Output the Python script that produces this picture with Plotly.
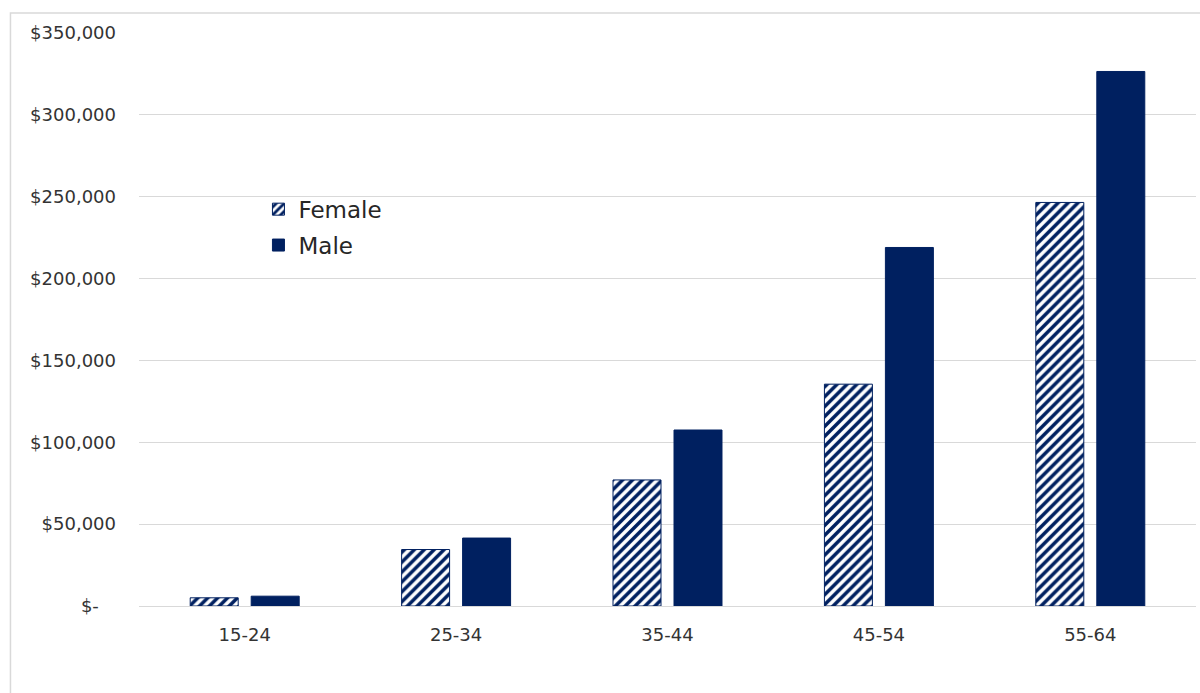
import plotly.graph_objects as go

# Age bands and average values by sex
age_groups = ["15-24", "25-34", "35-44", "45-54", "55-64"]
female_values = [5000, 34500, 77000, 135500, 246500]
male_values = [6000, 41500, 107500, 219000, 326500]

# Y-axis ticks in accounting style
tick_values = [0, 50000, 100000, 150000, 200000, 250000, 300000, 350000]
tick_labels = ["$-\u00a0\u00a0\u00a0", "$50,000", "$100,000", "$150,000",
               "$200,000", "$250,000", "$300,000", "$350,000"]

NAVY = "#002060"
TEXT = "#333333"
GRID = "#d9d9d9"
FONT = "DejaVu Sans, Verdana, sans-serif"

fig = go.Figure()
fig.add_trace(go.Bar(
    name="Female",
    legendgroup="female",
    x=age_groups,
    y=female_values,
    marker=dict(
        color="white",
        line=dict(color=NAVY, width=1),
        pattern=dict(shape="/", fgcolor=NAVY, bgcolor="white",
                     size=7, solidity=0.5, fgopacity=1,
                     fillmode="replace"),
    ),
))
fig.add_trace(go.Bar(
    name="Male",
    legendgroup="male",
    x=age_groups,
    y=male_values,
    marker=dict(color=NAVY, line=dict(color=NAVY, width=1)),
))

fig.update_layout(
    width=1200,
    height=693,
    margin=dict(l=139, r=4, t=33, b=87),
    paper_bgcolor="white",
    plot_bgcolor="white",
    barmode="group",
    bargap=0.423,
    bargroupgap=0.213,
    font=dict(family=FONT, color=TEXT, size=18),
    showlegend=True,
    legend=dict(
        x=0.113, y=0.73, xanchor="left", yanchor="top",
        bgcolor="rgba(0,0,0,0)",
        font=dict(size=23, color="#262626", family=FONT),
        tracegroupgap=3,
    ),
    xaxis=dict(
        showgrid=False,
        showline=True,
        linecolor=GRID,
        linewidth=1,
        ticks="",
        tickfont=dict(size=18, color=TEXT),
        ticklabelstandoff=12,
    ),
    yaxis=dict(
        range=[0, 350000],
        tickvals=tick_values,
        ticktext=tick_labels,
        showgrid=True,
        gridcolor=GRID,
        gridwidth=1,
        zeroline=False,
        showline=False,
        ticks="",
        tickfont=dict(size=18, color=TEXT),
        ticklabelstandoff=22,
    ),
    shapes=[
        # Outer chart frame
        dict(type="rect", xref="paper", yref="paper",
             x0=-0.1216, x1=1.01, y0=-0.2, y1=1.0349,
             line=dict(color=GRID, width=1.5), fillcolor="rgba(0,0,0,0)",
             layer="below"),
    ],
)

fig.write_html("out.html")
